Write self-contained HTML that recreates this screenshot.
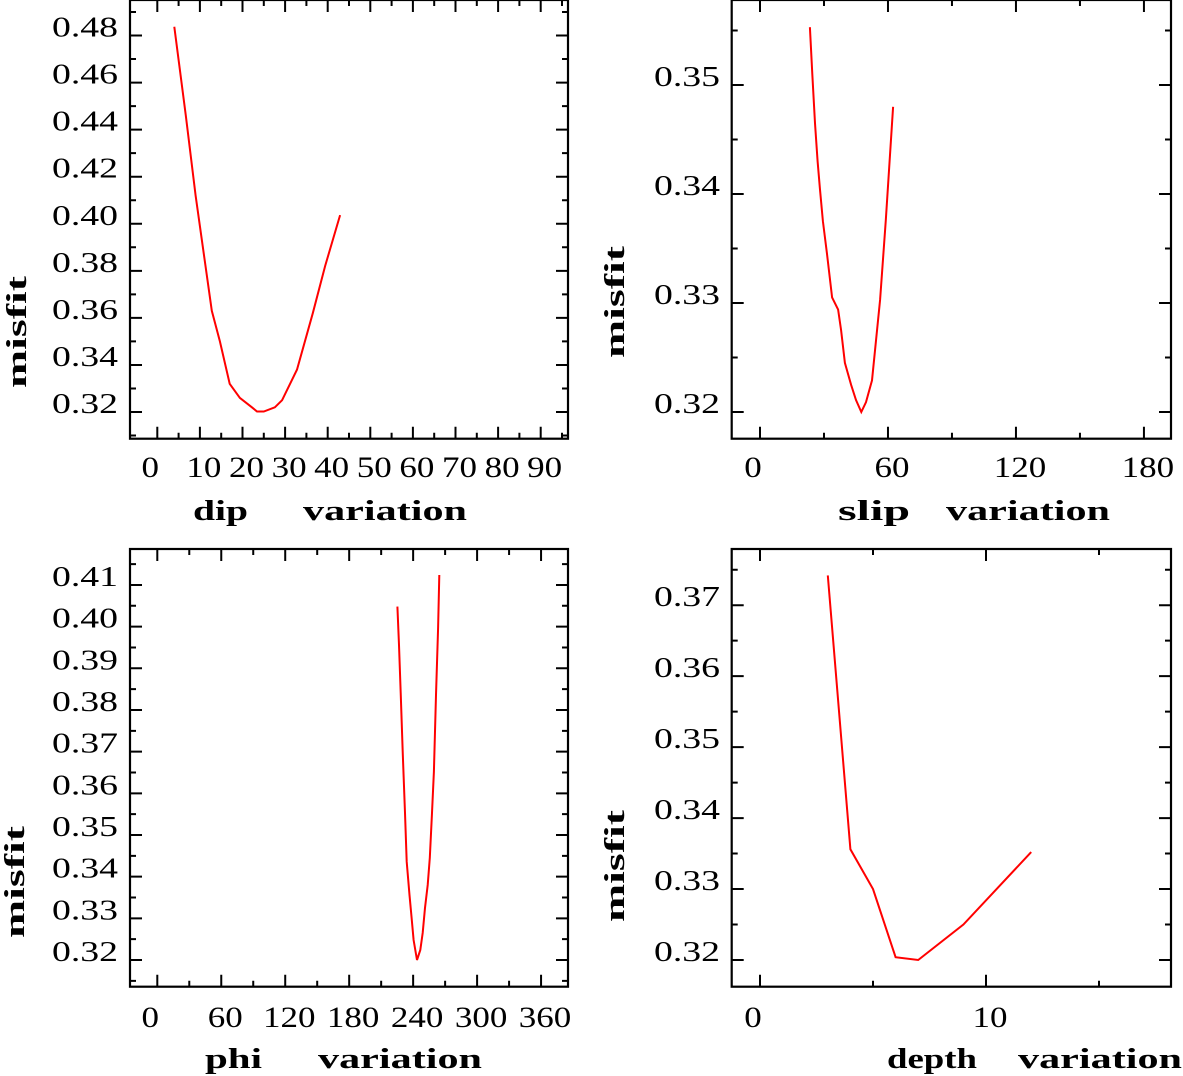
<!DOCTYPE html>
<html><head><meta charset="utf-8"><style>
html,body{margin:0;padding:0;background:#fff;}
svg{display:block;}
text{font-family:"Liberation Serif",serif;fill:#000;}
</style></head><body>
<svg id="chart" width="1183" height="1076" viewBox="0 0 1183 1076" xmlns="http://www.w3.org/2000/svg"></svg>
<script>
// ---- data ----
const dipX = [4, 6.7, 9, 12.8, 14.7, 17, 19.4, 22.2, 23.4, 25, 27.6, 29.3, 32.8, 36.5, 39.4, 42.9];
const dipY = [0.4837, 0.446, 0.412, 0.363, 0.350, 0.332, 0.326, 0.322, 0.3202, 0.3202, 0.322, 0.325, 0.338, 0.362, 0.382, 0.4037];
const slipX = [23.4, 24.5, 25.8, 27, 28.1, 29.5, 31.4, 33.8, 36.6, 38, 39.8, 42.7, 45, 47.5, 49.7, 52.5, 56.3, 59, 62.4];
const slipY = [0.3553, 0.351, 0.3465, 0.343, 0.3405, 0.3375, 0.3345, 0.3305, 0.3294, 0.3275, 0.3245, 0.3225, 0.3211, 0.3200, 0.3209, 0.3229, 0.3303, 0.3376, 0.348];
const phiX = [225.2, 226.7, 228.3, 230.2, 232.4, 234, 236.6, 238.5, 240.4, 243.6, 246.7, 249, 251.1, 253.7, 255.6, 257.6, 259.5, 261.4, 263.4, 264.5];
const phiY = [0.4048, 0.3956, 0.3841, 0.37, 0.3553, 0.3436, 0.3356, 0.3304, 0.3248, 0.32, 0.3224, 0.3265, 0.3325, 0.338, 0.3445, 0.3548, 0.3652, 0.3836, 0.3997, 0.4124];
const depthX = [3, 4, 5, 6, 7, 9, 12];
const depthY = [0.3742, 0.3356, 0.3300, 0.3204, 0.3200, 0.3250, 0.3352];
const dipTicks = [0,10,20,30,40,50,60,70,80,90];
const slipTicks = [0,60,120,180];
const phiTicks = [0,60,120,180,240,300,360];
const depthTicks = [0,10];
const dipYTicks = [0.32,0.34,0.36,0.38,0.40,0.42,0.44,0.46,0.48];
const slipYTicks = [0.32,0.33,0.34,0.35];
const phiYTicks = [0.32,0.33,0.34,0.35,0.36,0.37,0.38,0.39,0.40,0.41];
const depthYTicks = [0.32,0.33,0.34,0.35,0.36,0.37];

const NS = "http://www.w3.org/2000/svg";
const svg = document.getElementById('chart');
function mk(tag, attrs, parent){const e=document.createElementNS(NS,tag);for(const k in attrs)e.setAttribute(k,attrs[k]);(parent||svg).appendChild(e);return e;}

const panels = [
 {name:'dip', x0:130,x1:568,y0:0,y1:438.7, px0:157.3, pxs:4.26, vy0:412, vys:2353, xs:dipX, ys:dipY, xt:dipTicks, xminStep:5, yt:dipYTicks, yfmt:2, yminStep:0.01, ymajStep:0.02,
  title:[['dip',193,55],['variation',303,164]], ty:520, misfit:[26,388], ylabX:118, xlabY:477},
 {name:'slip', x0:731.7,x1:1171,y0:0,y1:438.7, px0:760, pxs:2.133, vy0:412, vys:10900, xs:slipX, ys:slipY, xt:slipTicks, xminStep:30, yt:slipYTicks, yfmt:2, yminStep:0.005, ymajStep:0.01,
  title:[['slip',838,72],['variation',946,164]], ty:520, misfit:[624,358], ylabX:720, xlabY:477},
 {name:'phi', x0:130,x1:568,y0:549,y1:986.7, px0:157.3, pxs:1.066, vy0:960, vys:4167, xs:phiX, ys:phiY, xt:phiTicks, xminStep:30, yt:phiYTicks, yfmt:2, yminStep:0.005, ymajStep:0.01,
  title:[['phi',205,57],['variation',318,164]], ty:1068, misfit:[24,938], ylabX:118, xlabY:1027},
 {name:'depth', x0:731.7,x1:1171,y0:549,y1:986.7, px0:760, pxs:22.6, vy0:960, vys:7096, xs:depthX, ys:depthY, xt:depthTicks, xminStep:5, yt:depthYTicks, yfmt:2, yminStep:0.005, ymajStep:0.01,
  title:[['depth',887,90],['variation',1018,164]], ty:1068, misfit:[624,922], ylabX:720, xlabY:1027}
];

panels.forEach(p=>{
  const g = mk('g',{});
  
  
  const X = v => p.px0 + p.pxs*v;
  const Y = v => p.vy0 - (v-0.32)*p.vys;
  const frame = mk('rect',{x:p.x0,y:p.y0,width:p.x1-p.x0,height:p.y1-p.y0,fill:'none',stroke:'#000','stroke-width':2.2},g);
  
  
  const xs0 = Math.ceil(((p.x0-p.px0)/p.pxs)/p.xminStep)*p.xminStep;
  let d='';
  for(let v=xs0; X(v)<p.x1-1; v+=p.xminStep){
    const x=X(v);
    if(x<p.x0+10) continue;
    const major = p.xt.includes(v);
    const L = major?12:6;
    d += `M${x},${p.y1}V${p.y1-L}M${x},${p.y0}V${p.y0+L}`;
  }
  for(let k=-2; k<200; k++){
    const v = 0.32 + k*p.yminStep;
    const y = Y(v);
    if(y>p.y1-2) continue; if(y<p.y0+2) break;
    const major = Math.abs(Math.round((v-0.32)/p.ymajStep)*p.ymajStep-(v-0.32))<1e-6;
    const L = major?12:6;
    d += `M${p.x0},${y}H${p.x0+L}M${p.x1},${y}H${p.x1-L}`;
  }
  const ticks = mk('path',{d:d,stroke:'#000','stroke-width':2,fill:'none'},g);
  
  
  p.yt.forEach(v=>{
    const s = v.toFixed(p.yfmt);
    const t = mk('text',{x:p.ylabX,y:Y(v)+1,'text-anchor':'end','font-size':29,textLength:s.length*16.5,lengthAdjust:'spacingAndGlyphs'},g);
    t.textContent = s;
    
    
  });
  p.xt.forEach(v=>{
    const s = String(v);
    const cx = v===0 ? X(v)-7 : X(v)+4;
    const t = mk('text',{x:cx,y:p.xlabY,'text-anchor':'middle','font-size':30,textLength:s.length*17.5,lengthAdjust:'spacingAndGlyphs'},g);
    t.textContent = s;
    
    
  });
  p.title.forEach(w=>{
    const t = mk('text',{x:w[1],y:p.ty,'font-size':29,'font-weight':'bold',textLength:w[2],lengthAdjust:'spacingAndGlyphs'},g);
    t.textContent = w[0];
    
    
  });
  const mt = mk('text',{x:0,y:0,'font-size':29,'font-weight':'bold',textLength:112,lengthAdjust:'spacingAndGlyphs',transform:`translate(${p.misfit[0]},${p.misfit[1]}) rotate(-90)`},g);
  mt.textContent = 'misfit';
  
  
  const pts = p.xs.map((v,i)=>X(v).toFixed(1)+','+Y(p.ys[i]).toFixed(1)).join(' ');
  const line = mk('polyline',{points:pts,fill:'none',stroke:'#ff0000','stroke-width':2},g);
  
  
});
</script>
</body></html>
